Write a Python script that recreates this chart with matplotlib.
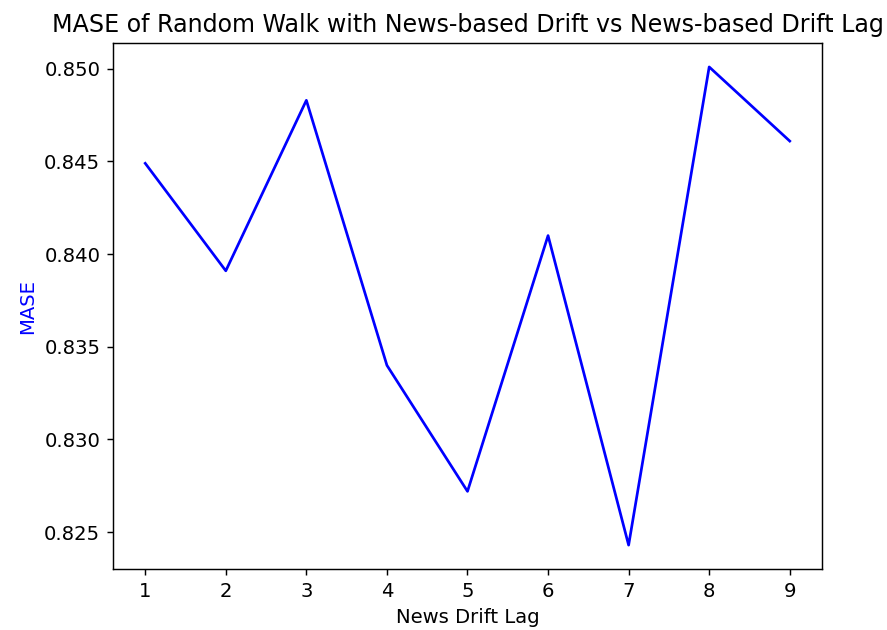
import matplotlib.pyplot as plt

plt.rcParams['font.size'] = 10.9

# Data
lags = [1, 2, 3, 4, 5, 6, 7, 8, 9]
mase = [0.8449, 0.8391, 0.8483, 0.8340, 0.8272, 0.8410, 0.8243, 0.8501, 0.8461]

fig = plt.figure(figsize=(887 / 130, 630 / 130), dpi=130)
ax = fig.add_axes([0.1274, 0.0968, 0.7993, 0.8349])

ax.plot(lags, mase, color='blue')
ax.set_xlabel('News Drift Lag')
ax.set_ylabel('MASE', color='blue')
ax.set_title('MASE of Random Walk with News-based Drift vs News-based Drift Lag', fontsize=13.2)
ax.set_xticks(lags)

fig.savefig('out.png', dpi=130)
